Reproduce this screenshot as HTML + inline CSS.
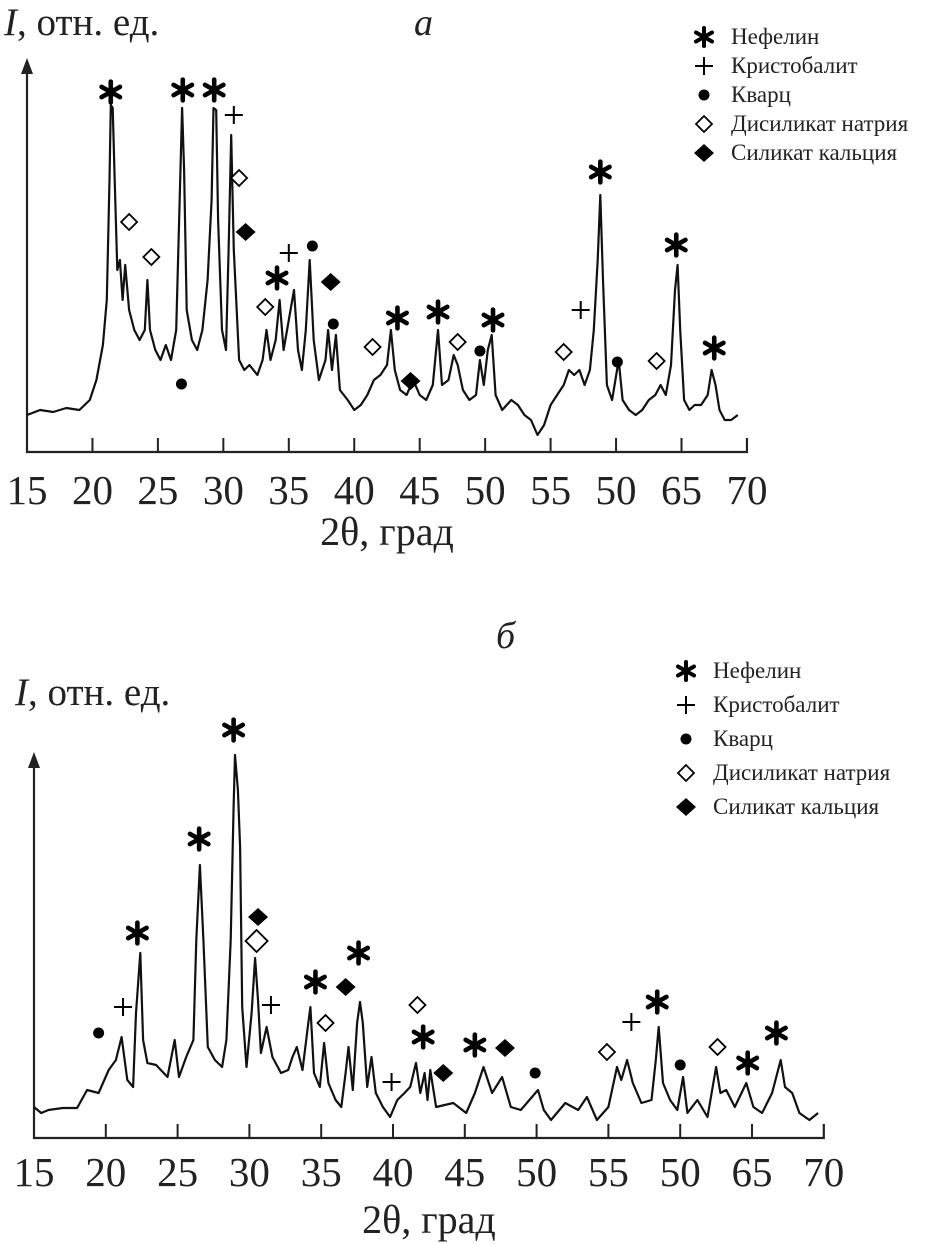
<!DOCTYPE html>
<html><head><meta charset="utf-8"><style>
html,body{margin:0;padding:0;background:#fff;}
svg{display:block;font-family:"Liberation Serif",serif;}
</style></head><body>
<svg id="svg" width="932" height="1244" viewBox="0 0 932 1244" xmlns="http://www.w3.org/2000/svg">
<defs>
<g id="ast"><g stroke="#000" stroke-width="4" stroke-linecap="round"><line x1="0" y1="-9" x2="0" y2="9"/><line x1="-8" y1="-4.5" x2="8" y2="4.5"/><line x1="-8" y1="4.5" x2="8" y2="-4.5"/></g></g>
</defs>
<g id="top"></g>
<g id="bot"></g>
</svg>
<script>
// ---------- chart a data ----------
const thetaA = [15,16,17,18,19,19.8,20.3,20.8,21.1,21.3,21.4,21.55,21.7,21.9,22.1,22.3,22.5,22.8,23.2,23.6,24.0,24.2,24.4,24.8,25.2,25.6,26.0,26.4,26.7,26.85,27.0,27.2,27.6,28.0,28.4,28.8,29.1,29.25,29.45,29.6,29.9,30.2,30.4,30.6,30.8,31.2,31.6,32.0,32.6,33.0,33.3,33.6,34.0,34.3,34.6,35.0,35.4,35.7,36.0,36.3,36.6,36.9,37.3,37.8,38.0,38.3,38.6,38.9,39.5,40.0,40.5,41.0,41.5,42.0,42.5,42.8,43.1,43.5,44.0,44.5,45.0,45.5,46.0,46.4,46.7,47.2,47.6,47.9,48.3,48.8,49.3,49.6,49.9,50.2,50.5,50.8,51.3,52,52.5,53,53.5,54,54.5,55,55.5,56,56.4,56.8,57.2,57.6,58.0,58.3,58.6,58.8,59.0,59.3,59.7,60.2,60.5,61,61.5,62,62.5,63,63.4,63.8,64.2,64.5,64.7,64.9,65.2,65.6,66,66.5,67,67.3,67.6,67.9,68.3,68.8,69.3];
const intensityA = [37,42,40,44,42,52,72,107,152,272,347,344,272,182,192,152,187,142,122,112,122,172,122,102,92,107,92,122,272,344,282,142,112,102,122,172,252,344,342,232,122,102,202,317,202,92,82,87,77,92,122,92,112,152,102,132,162,102,82,122,192,112,72,92,122,82,117,62,52,42,47,57,72,77,87,122,82,62,57,72,57,52,67,122,67,72,97,87,62,52,57,92,67,102,117,57,42,52,47,37,32,17,27,47,57,67,82,77,82,67,82,122,192,257,172,67,52,92,52,42,37,42,52,57,67,57,87,162,187,122,52,42,47,47,57,82,67,42,32,32,37];
// ---------- chart b data ----------
const thetaB = [15,15.5,16,17,18,18.7,19.5,20.2,20.7,21.1,21.5,21.9,22.1,22.4,22.6,22.9,23.5,24.3,24.8,25.1,25.6,26.1,26.3,26.55,26.8,27.1,27.6,28.1,28.4,28.7,28.9,29.0,29.2,29.35,29.5,29.8,30.15,30.4,30.6,30.8,31.2,31.6,32.2,32.7,33.0,33.3,33.7,34.1,34.25,34.5,34.9,35.2,35.5,36.0,36.4,36.7,36.9,37.2,37.5,37.7,37.9,38.2,38.5,38.8,39.3,39.8,40.3,40.8,41.2,41.6,41.9,42.2,42.4,42.6,43.0,44.2,45.1,45.7,46.3,46.9,47.6,48.2,48.9,50.1,50.5,51.0,52.0,52.9,53.5,54.2,55.0,55.6,55.9,56.3,56.7,57.3,58.0,58.3,58.5,58.8,59.3,59.8,60.2,60.5,61.2,61.9,62.5,62.8,63.2,63.8,64.6,65.1,65.7,66.4,67.0,67.3,67.8,68.3,69.0,69.6];
const intensityB = [31,25,28,30,30,48,45,68,78,101,58,51,125,185,98,75,73,61,98,61,81,98,198,273,198,91,78,71,98,198,331,383,348,291,131,71,125,180,138,85,111,81,65,68,81,91,68,115,131,65,51,95,55,38,31,65,91,48,115,136,115,51,81,45,31,21,38,45,51,75,45,65,38,68,31,35,25,45,71,45,61,31,28,48,28,18,35,28,41,18,31,71,58,78,55,35,38,78,111,55,38,28,61,25,38,21,71,45,48,31,55,31,25,45,78,51,45,25,18,25];
const tickValues = [15,20,25,30,35,40,45,50,55,60,65,70];
const tickLabels = ["15","20","25","30","35","40","45","50","55","50","65","70"];
const legendLabels = ["Нефелин","Кристобалит","Кварц","Дисиликат натрия","Силикат кальция"];
const legendKinds = ["ast","plus","dot","odia","fdia"];
const markersA = [[21.4,360,"ast"],[26.9,362,"ast"],[29.3,362,"ast"],[30.8,337,"plus"],[22.8,230,"odia"],[24.5,195,"odia"],[31.2,274,"odia"],[31.7,220,"fdia"],[26.8,68,"dot"],[34.1,174,"ast"],[35.0,199,"plus"],[36.8,206,"dot"],[38.2,170,"fdia"],[38.4,128,"dot"],[33.2,145,"odia"],[41.4,105,"odia"],[43.3,134,"ast"],[44.3,71,"fdia"],[46.4,140,"ast"],[47.9,110,"odia"],[49.6,101,"dot"],[50.6,132,"ast"],[56.0,100,"odia"],[57.3,142,"plus"],[58.8,280,"ast"],[60.1,90,"dot"],[63.1,91,"odia"],[64.6,207,"ast"],[67.5,104,"ast"]];
const markersB = [[19.5,105,"dot"],[21.2,131,"plus"],[22.2,205,"ast"],[26.5,299,"ast"],[28.9,408,"ast"],[30.6,221,"fdia"],[30.5,197,"odiaL"],[31.5,133,"plus"],[34.6,156,"ast"],[35.3,115,"odia"],[36.7,151,"fdia"],[37.6,185,"ast"],[41.7,133,"odia"],[42.1,101,"ast"],[39.9,56,"plus"],[43.5,65,"fdia"],[45.7,93,"ast"],[47.8,90,"fdia"],[49.9,65,"dot"],[54.9,86,"odia"],[56.6,116,"plus"],[58.4,136,"ast"],[60.0,73,"dot"],[62.6,91,"odia"],[64.7,75,"ast"],[66.7,105,"ast"]];

const NS="http://www.w3.org/2000/svg";
function mk(parent,tag,attrs,text){const e=document.createElementNS(NS,tag);for(const k in attrs)e.setAttribute(k,attrs[k]);if(text!==undefined)e.textContent=text;parent.appendChild(e);return e;}

function marker(g,kind,x,y,big){
  let e;
  if(kind==="ast"){e=mk(g,"use",{href:"#ast",transform:`translate(${x},${y}) scale(${big||1})`});}
  else if(kind==="plus"){e=mk(g,"path",{d:`M${x-9},${y}H${x+9}M${x},${y-9}V${y+9}`,stroke:"#000","stroke-width":2,fill:"none"});}
  else if(kind==="dot"){e=mk(g,"circle",{cx:x,cy:y,r:5.5,fill:"#000"});}
  else if(kind==="odia"||kind==="odiaL"){const s=kind==="odiaL"?11:8;e=mk(g,"path",{d:`M${x},${y-s}L${x+s},${y}L${x},${y+s}L${x-s},${y}Z`,stroke:"#000","stroke-width":1.8,fill:"#fff"});}
  else {e=mk(g,"path",{d:`M${x},${y-9}L${x+10},${y}L${x},${y+9}L${x-10},${y}Z`,fill:"#000"});}
  return e;
}

function drawChart(g,cfg){
  const {x0,scale,y0,yk,theta,inten,markers,axTop,ylabY,ylabX,tickY,letter,letterX,letterY,titleY,legY,legDy,legX,legFont} = cfg;
  const xs=v=>x0+(v-15)*scale, ys=I=>y0-I*yk;
  let e=mk(g,"path",{d:`M${x0},${axTop+10}V${y0}H${xs(70)}V${y0-14}`,stroke:"#222","stroke-width":2.2,fill:"none"});
  
  
  e=mk(g,"path",{d:`M${x0},${axTop}L${x0-6},${axTop+16}L${x0+6},${axTop+16}Z`,fill:"#222"});
  
  
  tickValues.forEach((v,i)=>{
    if(i>0&&i<tickValues.length-1){
      const t=mk(g,"line",{x1:xs(v),x2:xs(v),y1:y0,y2:y0-14,stroke:"#222","stroke-width":2});
      
      
    }
    const l=mk(g,"text",{x:xs(v),y:tickY,"font-size":41,"text-anchor":"middle",fill:"#222"},tickLabels[i]);
    
    
  });
  let d="";theta.forEach((t,i)=>{d+=(i?"L":"M")+xs(t).toFixed(1)+","+ys(inten[i]).toFixed(1);});
  e=mk(g,"path",{d,stroke:"#111","stroke-width":2.2,fill:"none","stroke-linejoin":"round"});
  
  
  markers.forEach(m=>{
    const mm=marker(g,m[2],xs(m[0]),ys(m[1]),m[2]==="ast"?1.15:1);
    
    
  });
  e=mk(g,"text",{x:xs(42.5),y:titleY,"font-size":40,"text-anchor":"middle",fill:"#222"},"2θ, град");
  
  
  e=mk(g,"text",{x:ylabX,y:ylabY,"font-size":39,fill:"#222"});
  
  
  mk(e,"tspan",{"font-style":"italic"},"I");mk(e,"tspan",{},", отн. ед.");
  e=mk(g,"text",{x:letterX,y:letterY,"font-size":38,"font-style":"italic",fill:"#222"},letter);
  
  
  legendLabels.forEach((lab,i)=>{
    const y=legY+i*legDy;
    const lg=mk(g,"g",{});
    
    
    marker(lg,legendKinds[i],legX-27,y,legendKinds[i]==="ast"?1:0.85);
    mk(lg,"text",{x:legX,y:y+7,"font-size":legFont,fill:"#222"},lab);
  });
}

drawChart(document.getElementById("top"),{x0:27,scale:13.09,y0:452,yk:1,theta:thetaA,inten:intensityA,markers:markersA,axTop:58,ylabX:4,ylabY:35,tickY:504,letter:"а",letterX:414,letterY:35,titleY:545,legY:37,legDy:29,legX:731,legFont:23});
drawChart(document.getElementById("bot"),{x0:34,scale:14.36,y0:1138,yk:1,theta:thetaB,inten:intensityB,markers:markersB,axTop:752,ylabX:15,ylabY:705,tickY:1186,letter:"б",letterX:496,letterY:648,titleY:1233,legY:671,legDy:34,legX:713,legFont:23});
</script>
</body></html>
